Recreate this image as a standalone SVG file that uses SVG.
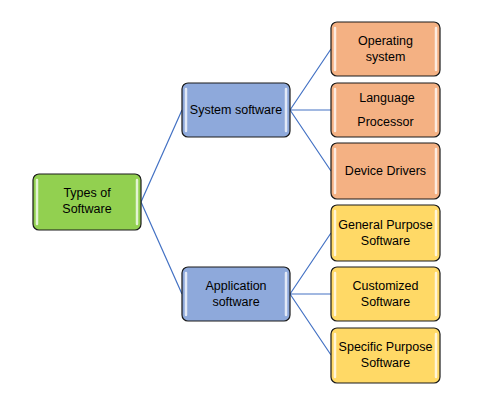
<svg xmlns="http://www.w3.org/2000/svg" width="486" height="401" viewBox="0 0 486 401">
<style>
.box{stroke:#1a1a1a;stroke-width:1.2}
.g{fill:#92D050}.b{fill:#8EA9DB}.o{fill:#F4B183}.y{fill:#FFD966}
.hl{stroke:#ffffff;stroke-width:2.5;stroke-linecap:round;opacity:0.75}
.t{font-family:"Liberation Sans",Arial,sans-serif;font-size:12.5px;fill:#000;text-anchor:middle}
.c{stroke:#4472C4;stroke-width:1.2;fill:none}
</style>
<rect width="486" height="401" fill="#fff"/>
<g id="connectors">
<path class="c" d="M141 202 L182 110 M141 202 L182 294"/>
<path class="c" d="M290 110 L331 49 M290 110 L331 110 M290 110 L331 171"/>
<path class="c" d="M290 294 L331 233 M290 294 L331 294 M290 294 L331 355"/>
</g>
<g id="root">
<rect class="box g" x="33" y="174" width="108" height="56" rx="6"/>
<path class="hl" d="M37 180 V224 M137 180 V224"/>
<text class="t" x="87" y="197">Types of</text>
<text class="t" x="87" y="213">Software</text>
</g>
<g id="system">
<rect class="box b" x="182" y="83" width="108" height="54" rx="6"/>
<path class="hl" d="M186 89 V131 M286 89 V131"/>
<text class="t" x="236" y="114">System software</text>
</g>
<g id="application">
<rect class="box b" x="182" y="267" width="108" height="54" rx="6"/>
<path class="hl" d="M186 273 V315 M286 273 V315"/>
<text class="t" x="236" y="290">Application</text>
<text class="t" x="236" y="306">software</text>
</g>
<g id="operating">
<rect class="box o" x="331" y="22" width="109" height="54" rx="6"/>
<path class="hl" d="M335 28 V70 M436 28 V70"/>
<text class="t" x="385.5" y="45">Operating</text>
<text class="t" x="385.5" y="61">system</text>
</g>
<g id="language">
<rect class="box o" x="331" y="83" width="109" height="54" rx="6"/>
<path class="hl" d="M335 89 V131 M436 89 V131"/>
<text class="t" x="387" y="102">Language</text>
<text class="t" x="385.5" y="126">Processor</text>
</g>
<g id="device">
<rect class="box o" x="331" y="143" width="109" height="56" rx="6"/>
<path class="hl" d="M335 149 V193 M436 149 V193"/>
<text class="t" x="385.5" y="175">Device Drivers</text>
</g>
<g id="general">
<rect class="box y" x="331" y="205" width="109" height="56" rx="6"/>
<path class="hl" d="M335 211 V255 M436 211 V255"/>
<text class="t" x="385.5" y="229">General Purpose</text>
<text class="t" x="385.5" y="245">Software</text>
</g>
<g id="customized">
<rect class="box y" x="331" y="267" width="109" height="54" rx="6"/>
<path class="hl" d="M335 273 V315 M436 273 V315"/>
<text class="t" x="385.5" y="290">Customized</text>
<text class="t" x="385.5" y="306">Software</text>
</g>
<g id="specific">
<rect class="box y" x="331" y="328" width="109" height="55" rx="6"/>
<path class="hl" d="M335 334 V377 M436 334 V377"/>
<text class="t" x="385.5" y="351">Specific Purpose</text>
<text class="t" x="385.5" y="367">Software</text>
</g>
</svg>
